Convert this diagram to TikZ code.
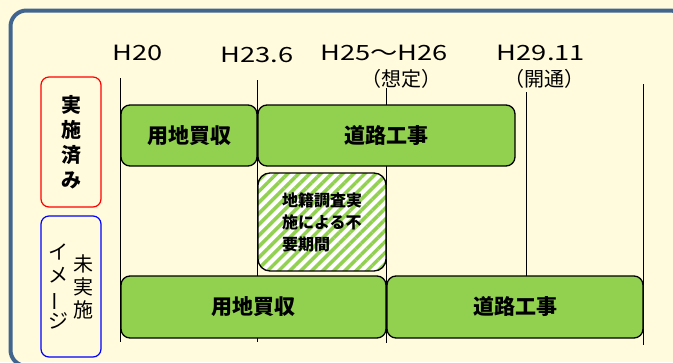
\documentclass[tikz,border=0pt]{standalone}
\usepackage{fontspec}
\setmainfont{Noto Sans CJK JP}
\usetikzlibrary{patterns.meta}

\definecolor{background}{HTML}{FFFBDC}
\definecolor{frameblue}{HTML}{41658F}
\definecolor{taskgreen}{HTML}{92D050}

\newcommand{\wide}[1]{\scalebox{1.3}[1]{#1}}

\tikzset{
  task/.style={rectangle, draw, line width=1.3pt, rounded corners=9pt, fill=taskgreen,
    font=\fontsize{21}{21}\selectfont\bfseries},
  phase/.style={rectangle, draw, line width=1.2pt, rounded corners=8pt, minimum width=60pt,
    align=center, font=\fontsize{20}{25}\selectfont\bfseries},
  year/.style={font=\fontsize{21}{21}\selectfont, inner sep=0pt},
  note/.style={font=\fontsize{20}{20}\selectfont, inner sep=0pt},
  tick/.style={line width=1pt}
}

\begin{document}
\begin{tikzpicture}[x=1pt, y=-1pt]

\useasboundingbox (0,0) rectangle (673,362);
\clip (0,0) rectangle (673,362);
\fill[background] (0,0) rectangle (673,362);
\draw[frameblue, line width=4pt, rounded corners=16pt] (10.5,10.5) rectangle (686,366);

% time axis
\node[year] (h20) at (138,53) {\wide{H20}};
\node[year] (h236) at (257,55) {\wide{H23.6}};
\node[year] (h25) at (384,53) {\wide{H25～H26}};
\node[note] (h25n) at (401,79) {（想定）};
\node[year] (h29) at (541,53) {\wide{H29.11}};
\node[note] (h29n) at (544,79) {（開通）};

\draw[tick] (120,78) -- (120,342);
\draw[tick] (257,80) -- (257,342);
\draw[tick] (386,88) -- (386,343);
\draw[tick] (526,92) -- (526,280);
\draw[tick] (643,84) -- (643,345);

% done
\node[phase, draw=red, minimum height=130pt] (done) at (71,142) {実\\施\\済\\み};
\node[task, minimum width=136pt, minimum height=61pt] (land1) at (189,135.5) {用地買収};
\node[task, minimum width=257pt, minimum height=61pt] (road1) at (386.5,135.5) {道路工事};
\node[rectangle, draw, line width=1.3pt, rounded corners=12pt, minimum width=128pt, minimum height=98pt,
  preaction={fill=white}, pattern={Lines[angle=45, distance=7.8pt, line width=3.5pt]}, pattern color=taskgreen,
  align=left, font=\fontsize{16}{22}\selectfont\bfseries] (wait) at (322,222) {地籍調査実\\施による不\\要期間};

% not yet
\node[phase, draw=blue, minimum height=141pt, font=\fontsize{20}{23}\selectfont] (plan) at (71,286.5)
  {\parbox[c]{20pt}{\centering イ\\メ\\\rotatebox[origin=c]{90}{ー}\\ジ}\hspace{5pt}%
   \parbox[c]{20pt}{\centering 未\\実\\施}};
\node[task, minimum width=265pt, minimum height=62pt] (land2) at (253.5,307) {用地買収};
\node[task, minimum width=256pt, minimum height=62pt] (road2) at (515,307) {道路工事};

\end{tikzpicture}
\end{document}
